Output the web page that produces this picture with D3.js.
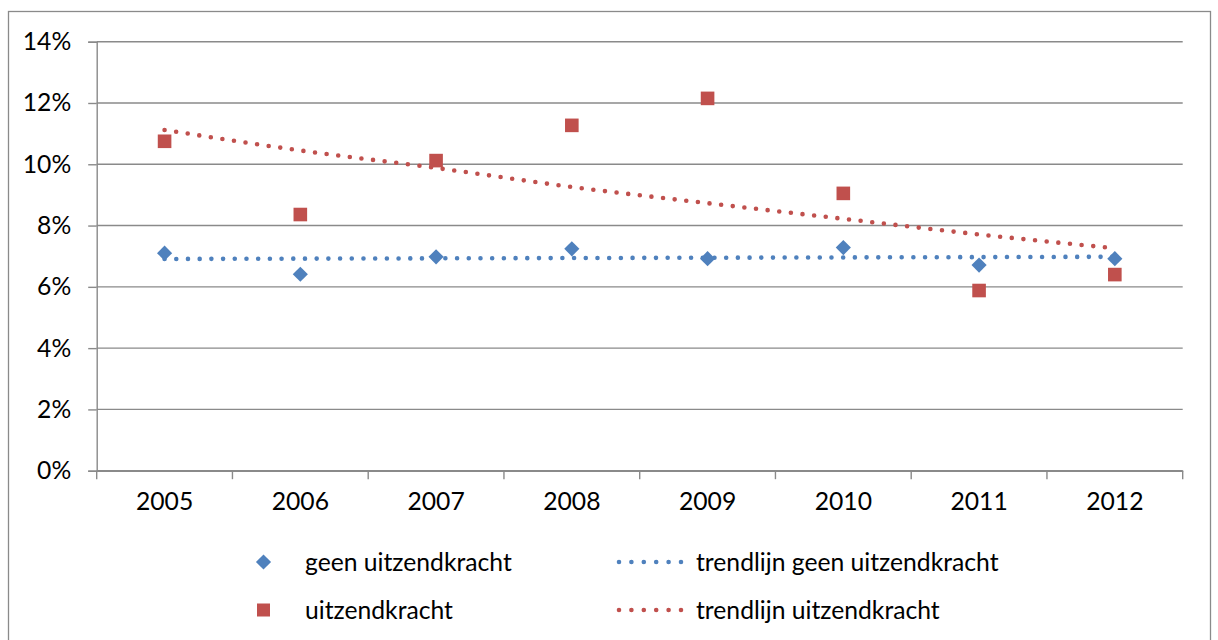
<!DOCTYPE html>
<html><head><meta charset="utf-8">
<script src="https://cdn.jsdelivr.net/npm/d3@7"></script>
<style>html,body{margin:0;padding:0;background:#fff;} svg{display:block;}</style>
</head><body>
<svg id="c" width="1218" height="640"></svg>
<script>
const years = ["2005","2006","2007","2008","2009","2010","2011","2012"];
const geen = [7.10, 6.41, 6.98, 7.24, 6.92, 7.28, 6.71, 6.92];
const uitzend = [10.75, 8.36, 10.12, 11.27, 12.15, 9.05, 5.88, 6.40];
const trendGeen = [6.91, 6.92, 6.93, 6.94, 6.95, 6.96, 6.97, 6.98];
const trendUitzend = [11.12, 10.45, 9.88, 9.26, 8.73, 8.22, 7.71, 7.26];
const yTicks = [0, 2, 4, 6, 8, 10, 12, 14];
const legendLabels = ["geen uitzendkracht", "trendlijn geen uitzendkracht", "uitzendkracht", "trendlijn uitzendkracht"];

const BLUE = "#4F81BD", RED = "#C0504D", GRID = "#8a8a8a";
const FONT = "Lato, 'Open Sans', sans-serif";
const FS = 24.7;

const svg = d3.select("#c");
svg.append("rect").attr("x", 8.5).attr("y", 11.5).attr("width", 1202).attr("height", 640)
  .attr("fill", "#fff").attr("stroke", GRID).attr("stroke-width", 1.3);

const L = 96.7, R = 1182.7, T = 41.7, B = 470.7;
const x = d3.scaleBand().domain(years).range([L, R]);
const y = d3.scaleLinear().domain([0, 14]).range([B, T]);
const cx = d => x(d) + x.bandwidth() / 2;

// gridlines
svg.append("g").selectAll("line").data(yTicks).join("line")
  .attr("x1", L).attr("x2", R).attr("y1", d => y(d)).attr("y2", d => y(d))
  .attr("stroke", GRID).attr("stroke-width", 1.4);

// y axis
const yAxis = d3.axisLeft(y).tickValues(yTicks).tickSize(8.5).tickPadding(17).tickFormat(d => d + "%");
const gy = svg.append("g").attr("transform", `translate(${L},0)`).call(yAxis);
gy.select(".domain").attr("stroke", GRID).attr("stroke-width", 1.4);
gy.selectAll(".tick line").attr("stroke", GRID).attr("stroke-width", 1.4);
gy.selectAll("text").attr("font-family", FONT).attr("font-size", FS).attr("fill", "#000");

// x axis
const xAxis = d3.axisBottom(x).tickSize(0).tickPadding(22);
const gx = svg.append("g").attr("transform", `translate(0,${B})`).call(xAxis);
gx.select(".domain").attr("stroke", GRID).attr("stroke-width", 1.4);
gx.selectAll("text").attr("font-family", FONT).attr("font-size", FS).attr("fill", "#000");
// category boundary ticks
const bounds = years.map(d => x(d)).concat([R]);
svg.append("g").selectAll("line").data(bounds).join("line")
  .attr("x1", d => d).attr("x2", d => d).attr("y1", B).attr("y2", B + 8.5)
  .attr("stroke", GRID).attr("stroke-width", 1.4);

// trendlines
const line = d3.line().x((d, i) => cx(years[i])).y(d => y(d)).curve(d3.curveMonotoneX);
function trend(data, color) {
  svg.append("path").datum(data).attr("d", line).attr("fill", "none")
    .attr("stroke", color).attr("stroke-width", 4.6).attr("stroke-linecap", "round")
    .attr("stroke-dasharray", "0 11.7");
}
trend(trendUitzend, RED);
trend(trendGeen, BLUE);

// markers
const diamond = d3.symbol().type(d3.symbolSquare).size(115);
svg.append("g").selectAll("path").data(geen).join("path")
  .attr("d", diamond)
  .attr("transform", (d, i) => `translate(${cx(years[i])},${y(d)}) rotate(45)`)
  .attr("fill", BLUE);
const S = 13.6;
svg.append("g").selectAll("rect").data(uitzend).join("rect")
  .attr("x", (d, i) => cx(years[i]) - S / 2).attr("y", d => y(d) - S / 2)
  .attr("width", S).attr("height", S).attr("fill", RED);

// legend
const lg = svg.append("g");
const rowY = [562, 610];
lg.append("path").attr("d", diamond).attr("transform", `translate(263.5,${rowY[0]}) rotate(45)`).attr("fill", BLUE);
lg.append("rect").attr("x", 263.5 - 6.5).attr("y", rowY[1] - 6.5).attr("width", 13).attr("height", 13).attr("fill", RED);
[[BLUE, rowY[0]], [RED, rowY[1]]].forEach(([c, yy]) => {
  lg.append("line").attr("x1", 619).attr("x2", 681).attr("y1", yy).attr("y2", yy)
    .attr("stroke", c).attr("stroke-width", 4.6).attr("stroke-linecap", "round").attr("stroke-dasharray", "0 12.4");
});
const lpos = [[305, rowY[0]], [696, rowY[0]], [305, rowY[1]], [696, rowY[1]]];
lg.selectAll("text").data(legendLabels).join("text")
  .attr("x", (d, i) => lpos[i][0]).attr("y", (d, i) => lpos[i][1])
  .attr("dy", "0.35em").attr("font-family", FONT).attr("font-size", FS).attr("fill", "#000")
  .text(d => d);
</script>
</body></html>
